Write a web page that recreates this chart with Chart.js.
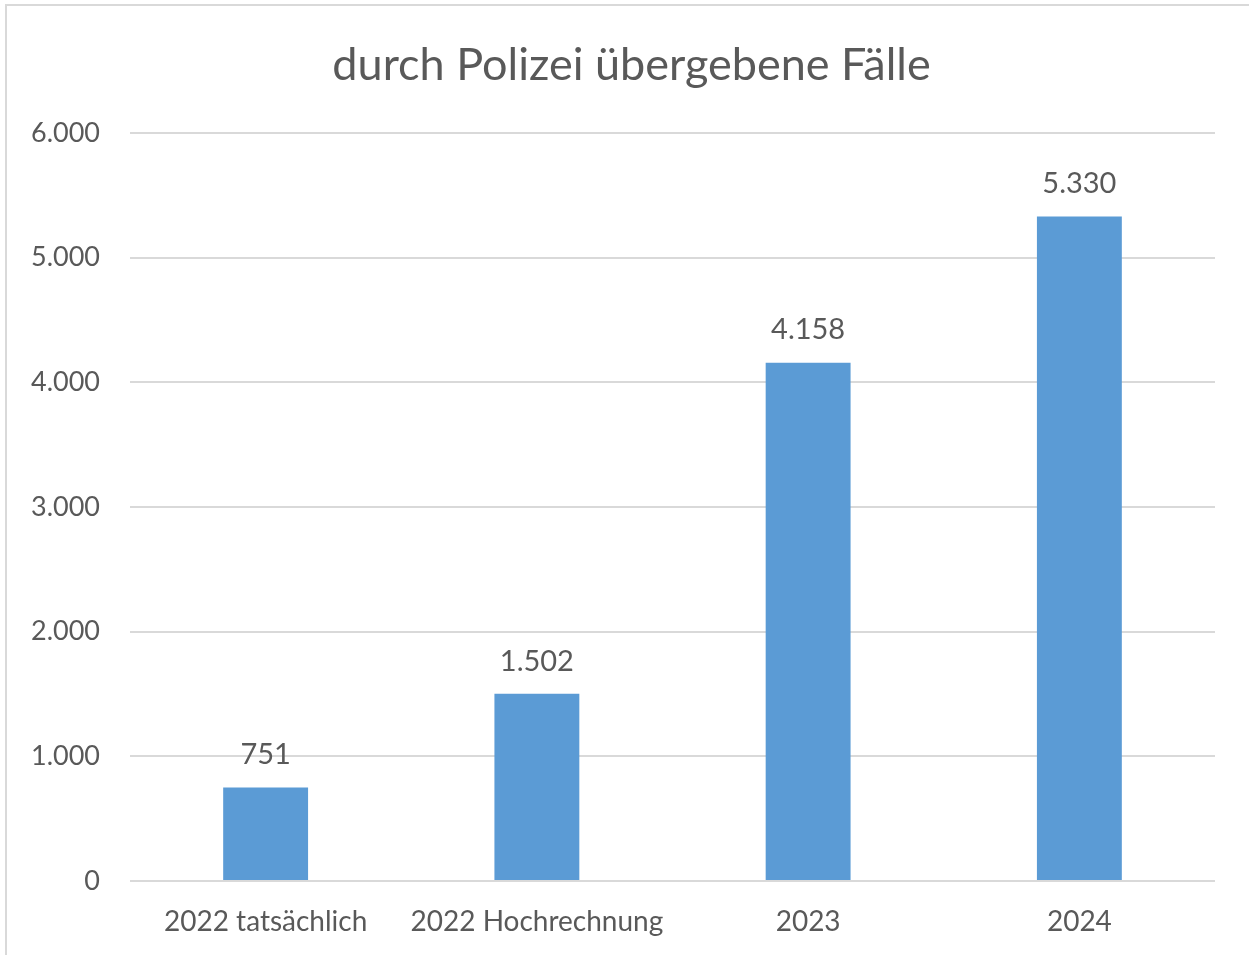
<!DOCTYPE html>
<html>
<head>
<meta charset="utf-8">
<script src="https://cdn.jsdelivr.net/npm/chart.js@4/dist/chart.umd.min.js"></script>
<style>
  html, body { margin: 0; padding: 0; background: #ffffff; }
  #wrap { position: relative; width: 1249px; height: 955px; }
</style>
</head>
<body>
<div id="wrap"><canvas id="c" width="1249" height="955"></canvas></div>
<script>
const titleText = 'durch Polizei übergebene Fälle';
const categories = ['2022 tatsächlich', '2022 Hochrechnung', '2023', '2024'];
const values = [751, 1502, 4158, 5330];
const yTickValues = [0, 1000, 2000, 3000, 4000, 5000, 6000];

function fmtDE(v) {
  return String(Math.round(v)).replace(/\B(?=(\d{3})+(?!\d))/g, '.');
}

const FONT = 'Lato, "Open Sans", sans-serif';
const TEXT = '#595959';

const frame = {
  id: 'frame',
  beforeDraw(chart) {
    const ctx = chart.ctx;
    ctx.save();
    ctx.fillStyle = '#ffffff';
    ctx.fillRect(0, 0, chart.width, chart.height);
    ctx.strokeStyle = '#d9d9d9';
    ctx.lineWidth = 2;
    ctx.strokeRect(6, 5, chart.width + 20, chart.height + 20);
    ctx.font = '45px ' + FONT;
    ctx.fillStyle = TEXT;
    ctx.textAlign = 'center';
    ctx.textBaseline = 'middle';
    ctx.fillText(titleText, 631.5, 65);
    ctx.restore();
  }
};

const dataLabels = {
  id: 'dataLabels',
  afterDatasetsDraw(chart) {
    const ctx = chart.ctx;
    ctx.save();
    ctx.font = '29px ' + FONT;
    ctx.fillStyle = TEXT;
    ctx.textAlign = 'center';
    ctx.textBaseline = 'bottom';
    chart.getDatasetMeta(0).data.forEach((el, i) => {
      ctx.fillText(fmtDE(values[i]), el.x, el.y - 18);
    });
    ctx.restore();
  }
};

new Chart(document.getElementById('c'), {
  type: 'bar',
  data: {
    labels: categories,
    datasets: [{
      data: values,
      backgroundColor: '#5b9bd5',
      borderWidth: 0,
      categoryPercentage: 1.0,
      barPercentage: 0.313
    }]
  },
  options: {
    responsive: false,
    animation: false,
    layout: { padding: { left: 30, right: 34, top: 133, bottom: 0 } },
    plugins: {
      legend: { display: false },
      tooltip: { enabled: false },
      title: { display: false }
    },
    scales: {
      x: {
        grid: { display: false, drawTicks: false },
        border: { display: false },
        ticks: {
          color: TEXT,
          font: { family: FONT, size: 28 },
          padding: 24,
          maxRotation: 0,
          autoSkip: false
        },
        afterFit(scale) { scale.height = 74; }
      },
      y: {
        min: 0,
        max: 6000,
        afterBuildTicks(scale) { scale.ticks = yTickValues.map(v => ({ value: v })); },
        grid: { color: '#d9d9d9', lineWidth: 2, drawTicks: false },
        border: { display: false },
        ticks: {
          color: TEXT,
          font: { family: FONT, size: 27 },
          padding: 30,
          callback: (v) => fmtDE(v)
        },
        afterFit(scale) { scale.width = 100; }
      }
    }
  },
  plugins: [frame, dataLabels]
});
</script>
</body>
</html>
